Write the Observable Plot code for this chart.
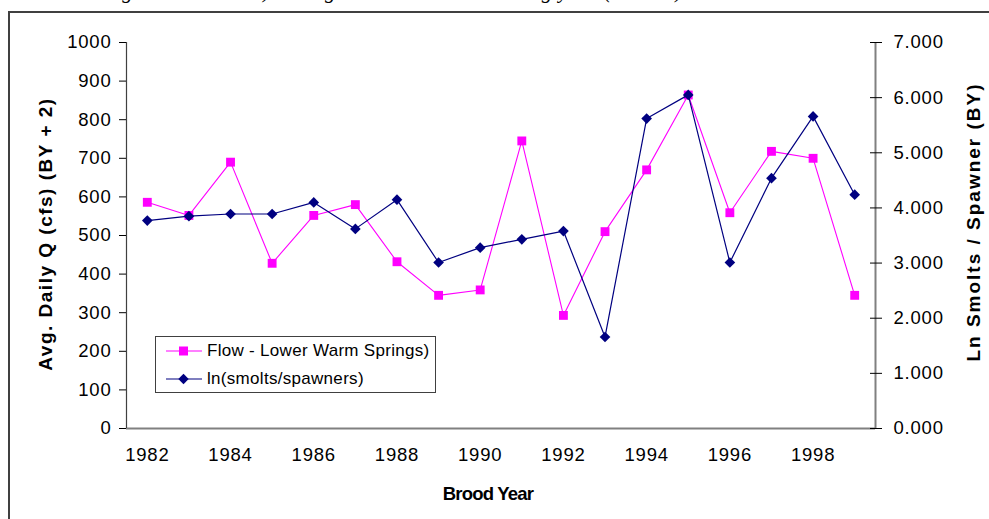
<!DOCTYPE html>
<html>
<head>
<meta charset="utf-8">
<script src="https://cdn.jsdelivr.net/npm/d3@7"></script>
<script src="https://cdn.jsdelivr.net/npm/@observablehq/plot@0.6"></script>
<style>
  html, body { margin: 0; padding: 0; background: #fff; }
  body { width: 989px; height: 519px; overflow: hidden; position: relative; font-family: "Liberation Sans", Arial, sans-serif; }
  #caption { position: absolute; left: 100px; top: -19px; font-family: "Liberation Serif", "Times New Roman", serif; font-style: italic; font-size: 21px; line-height: 21px; white-space: nowrap; color: #000; letter-spacing: 0.6px; }
  #frame { position: absolute; left: 8px; top: 11px; width: 2000px; height: 2000px; border-left: 2px solid #404040; border-top: 2px solid #404040; }
  .layer { position: absolute; left: 0; top: 0; }
  .title { position: absolute; font-weight: bold; font-size: 19px; letter-spacing: 1.5px; white-space: nowrap; color: #000; }
  #legend { position: absolute; left: 155px; top: 336px; width: 279px; height: 55px; border: 1px solid #404040; background: #fff; font-size: 17px; letter-spacing: 0.3px; white-space: nowrap; }
  .row { position: absolute; left: 10px; height: 20px; display: flex; align-items: center; white-space: nowrap; }
  .row svg { margin-right: 5px; flex: none; }
</style>
</head>
<body>
<div id="caption">migration window) during the associated smolting year (BY + 2).</div>
<div id="chart"></div>
<div id="frame"></div>
<div class="title" id="ytitle" style="left:46px; top:234px; transform: translate(-50%,-50%) rotate(-90deg);">Avg. Daily Q (cfs) (BY + 2)</div>
<div class="title" id="y2title" style="left:974px; top:222px; letter-spacing:2px; transform: translate(-50%,-50%) rotate(-90deg);">Ln Smolts / Spawner (BY)</div>
<div class="title" id="xtitle" style="left:488px; top:494px; font-size:18.5px; letter-spacing:-0.8px; transform: translate(-50%,-50%);">Brood Year</div>
<div id="legend"></div>
<script>
// ---- data ----
const years = [1982,1983,1984,1985,1986,1987,1988,1989,1990,1991,1992,1993,1994,1995,1996,1997,1998,1999];
const flow = [586,552,690,428,552,580,432,345,359,745,293,510,670,864,559,718,700,345];
const lnRatio = [3.77,3.85,3.89,3.89,4.10,3.62,4.15,3.01,3.28,3.43,3.58,1.66,5.62,6.05,3.01,4.54,5.66,4.24];
const yearTicks = [1982,1984,1986,1988,1990,1992,1994,1996,1998];
const flowTicks = [0,100,200,300,400,500,600,700,800,900,1000];
const lnTicks = [0,1,2,3,4,5,6,7];
const seriesNames = ["Flow -  Lower Warm Springs)", "ln(smolts/spawners)"];
const colors = ["#FF00FF", "#000080"];

const flowData = years.map((y, i) => ({year: y, value: flow[i]}));
const lnData = years.map((y, i) => ({year: y, value: lnRatio[i]}));

const xDomain = [years[0] - 0.5, years[years.length - 1] + 0.5];
const common = {
  width: 989, height: 519,
  marginLeft: 126, marginRight: 114, marginTop: 42, marginBottom: 91,
  style: {background: "transparent", fontFamily: "'Liberation Sans', Arial, sans-serif", fontSize: "18.5px", letterSpacing: "0.8px", color: "#000"}
};

const p1 = Plot.plot({
  ...common,
  x: {type: "linear", domain: xDomain, axis: null},
  y: {domain: [0, 1000], axis: null},
  marks: [
    Plot.ruleY([0], {stroke: "#808080", strokeWidth: 2}),
    Plot.ruleX([xDomain[0]], {stroke: "#404040", strokeWidth: 1.2}),
    Plot.axisY({anchor: "left", ticks: flowTicks, tickSize: 7, tickPadding: 8, label: null, tickFormat: d => String(d)}),
    Plot.axisX({anchor: "bottom", ticks: yearTicks, tickSize: 0, tickPadding: 19, label: null, tickFormat: d => String(d)}),
    Plot.line(flowData, {x: "year", y: "value", stroke: colors[0], strokeWidth: 1.1}),
    Plot.dot(flowData, {x: "year", y: "value", symbol: "square", r: 5, fill: colors[0], stroke: "none"})
  ]
});

const p2 = Plot.plot({
  ...common,
  x: {type: "linear", domain: xDomain, axis: null},
  y: {domain: [0, 7], axis: null},
  marks: [
    Plot.ruleX([xDomain[1]], {stroke: "#808080", strokeWidth: 2}),
    Plot.axisY({anchor: "right", ticks: lnTicks, tickSize: 12, dx: -6, tickPadding: 12, label: null, tickFormat: d => d.toFixed(3)}),
    Plot.line(lnData, {x: "year", y: "value", stroke: colors[1], strokeWidth: 1.2}),
    Plot.dot(lnData, {x: "year", y: "value", symbol: "diamond2", r: 4.8, fill: colors[1], stroke: "none"})
  ]
});

const chart = document.getElementById("chart");
p1.classList.add("layer");
p2.classList.add("layer");
chart.appendChild(p1);
chart.appendChild(p2);

// legend
const legend = document.getElementById("legend");
seriesNames.forEach((name, i) => {
  const row = document.createElement("div");
  row.className = "row";
  row.style.top = (i === 0 ? 4 : 32) + "px";
  const sw = i === 0
    ? `<svg width="36" height="12"><line x1="0" y1="6" x2="36" y2="6" stroke="${colors[i]}" stroke-width="1.2"/><rect x="13" y="1.5" width="9" height="9" fill="${colors[i]}"/></svg>`
    : `<svg width="36" height="12"><line x1="0" y1="6" x2="36" y2="6" stroke="${colors[i]}" stroke-width="1.2"/><path d="M17.5 0.8 L22.7 6 L17.5 11.2 L12.3 6 Z" fill="${colors[i]}"/></svg>`;
  row.innerHTML = sw + `<span>${name}</span>`;
  legend.appendChild(row);
});
</script>
</body>
</html>
